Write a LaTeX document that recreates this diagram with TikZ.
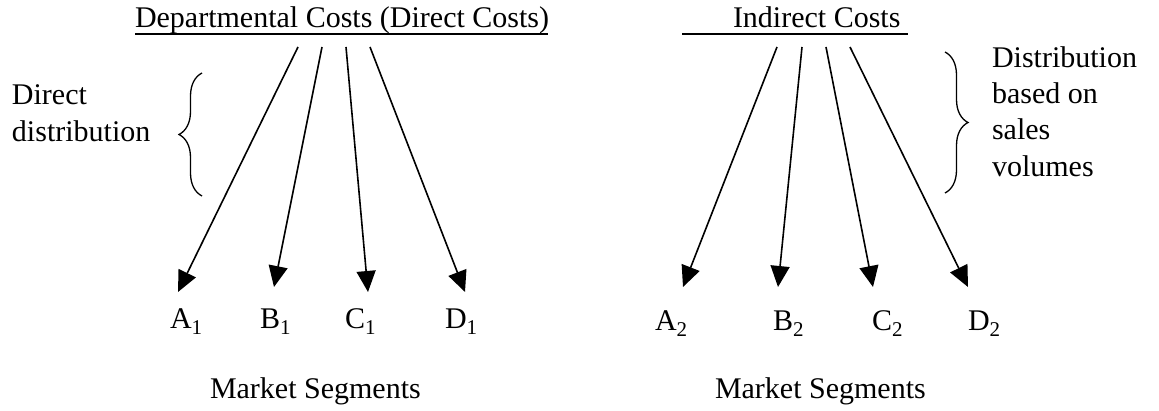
\documentclass[tikz,border=0pt]{standalone}
\usepackage{fontspec}
\setmainfont{Liberation Serif}
\usetikzlibrary{arrows.meta,decorations.pathreplacing}
\begin{document}
\begin{tikzpicture}[x=1pt,y=-1pt,
  txt/.style={anchor=base west,inner sep=0pt,outer sep=0pt,font=\fontsize{30}{36}\selectfont},
  conn/.style={line width=1.6pt,-{Triangle[length=21pt,width=19pt]}},
  uline/.style={line width=1.5pt},
  bracestyle/.style={line width=1.3pt,decorate,decoration={brace,amplitude=23pt,aspect=0.5}}]
\useasboundingbox (0,0) rectangle (1159,411);
% titles
\node[txt] (t1) at (135,28) {Departmental Costs (Direct Costs)};
\node[txt] (t2) at (733,28) {Indirect Costs};
\coordinate (u1a) at (135,34);
\coordinate (u1b) at (548,34);
\coordinate (u2a) at (682,34);
\coordinate (u2b) at (908,34);
\draw[uline] (u1a) -- (u1b);
\draw[uline] (u2a) -- (u2b);
% side texts
\node[txt] (dl1) at (12,105) {Direct};
\node[txt] (dl2) at (12,142) {distribution};
\node[txt] (dr1) at (992,68) {Distribution};
\node[txt] (dr2) at (992,104) {based on};
\node[txt] (dr3) at (992,140) {sales};
\node[txt] (dr4) at (992,177) {volumes};
% braces
\coordinate (b1a) at (202,196);
\coordinate (b1b) at (202,73);
\coordinate (b2a) at (945,193);
\coordinate (b2b) at (945,52);
\draw[bracestyle] (b1a) -- (b1b);
\draw[bracestyle] (b2b) -- (b2a);
% labels
\node[txt] (A1) at (170,329) {A\textsubscript{1}};
\node[txt] (B1) at (260,329) {B\textsubscript{1}};
\node[txt] (C1) at (345,329) {C\textsubscript{1}};
\node[txt] (D1) at (445,329) {D\textsubscript{1}};
\node[txt] (A2) at (655,331) {A\textsubscript{2}};
\node[txt] (B2) at (773,331) {B\textsubscript{2}};
\node[txt] (C2) at (872,331) {C\textsubscript{2}};
\node[txt] (D2) at (968,331) {D\textsubscript{2}};
\node[txt] (m1) at (210,399) {Market Segments};
\node[txt] (m2) at (715,399) {Market Segments};
% arrow coordinates
\coordinate (s1) at (298,47);
\coordinate (s2) at (322,47);
\coordinate (s3) at (346,47);
\coordinate (s4) at (370,47);
\coordinate (e1) at (178,292);
\coordinate (e2) at (274,287);
\coordinate (e3) at (368,292);
\coordinate (e4) at (465,292);
\coordinate (r1) at (777,47);
\coordinate (r2) at (802,47);
\coordinate (r3) at (826,47);
\coordinate (r4) at (850,47);
\coordinate (f1) at (683,287);
\coordinate (f2) at (778,287);
\coordinate (f3) at (873,287);
\coordinate (f4) at (968,287);
\draw[conn] (s1) -- (e1);
\draw[conn] (s2) -- (e2);
\draw[conn] (s3) -- (e3);
\draw[conn] (s4) -- (e4);
\draw[conn] (r1) -- (f1);
\draw[conn] (r2) -- (f2);
\draw[conn] (r3) -- (f3);
\draw[conn] (r4) -- (f4);
\end{tikzpicture}
\end{document}
